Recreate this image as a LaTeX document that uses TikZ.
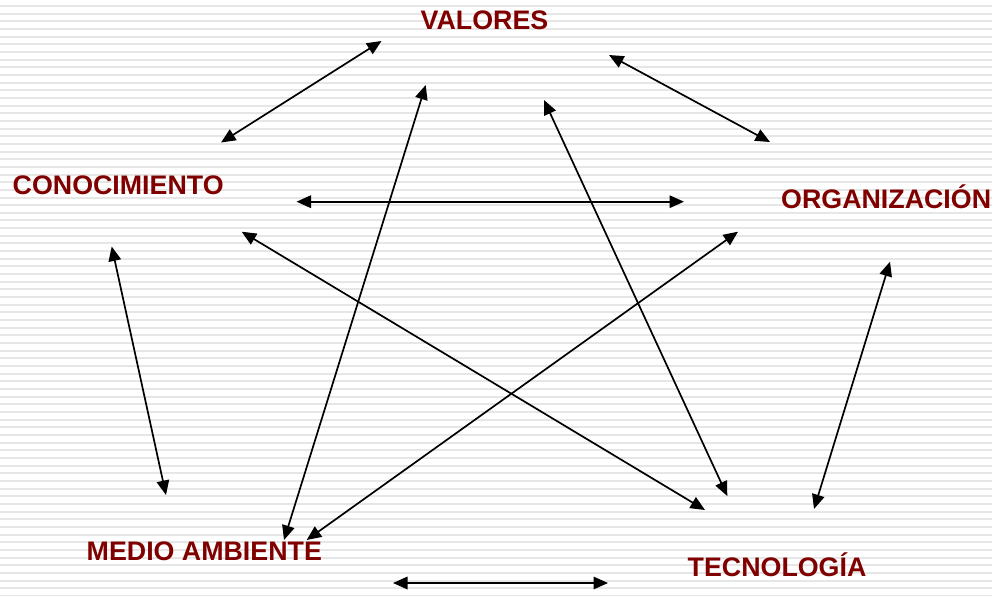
\documentclass[tikz,border=0pt]{standalone}
\usepackage{fontspec}
\setmainfont{Liberation Sans}
\usetikzlibrary{arrows.meta}
\definecolor{darkred}{HTML}{800000}
\definecolor{stripe}{HTML}{E6E6E6}

\begin{document}
\begin{tikzpicture}[x=1pt, y=-1pt,
	word/.style={text=darkred, font=\bfseries\fontsize{26.8}{30}\selectfont, inner sep=0pt, anchor=base west},
	link/.style={{Triangle[length=14.5pt, width=12.5pt]}-{Triangle[length=14.5pt, width=12.5pt]}, line width=1.7pt}]

	% background
	\fill [white] (0, 0) rectangle (992, 595);
	\useasboundingbox (0, 0) rectangle (992, 595);
	\foreach \k in {0,...,77}
		\draw [stripe, line width=2pt] (0, 6+7.66*\k) -- (992, 6+7.66*\k);

	\node [word] (val) at (420.5, 29.3) {VALORES};
	\node [word] (con) at (12.5, 194) {CONOCIMIENTO};
	\node [word] (org) at (781, 208.3) {ORGANIZACIÓN};
	\node [word] (med) at (86.5, 560.7) {MEDIO AMBIENTE};
	\node [word] (tec) at (687.5, 576) {TECNOLOGÍA};

	% arrow ends
	\coordinate (val-con) at (381.5, 41);
	\coordinate (con-val) at (221, 142.5);
	\coordinate (val-org) at (609, 55);
	\coordinate (org-val) at (770, 142);
	\coordinate (con-org) at (296.5, 201.7);
	\coordinate (org-con) at (684, 201.7);
	\coordinate (con-med) at (111.7, 246.5);
	\coordinate (med-con) at (166, 495);
	\coordinate (org-tec) at (890, 261.7);
	\coordinate (tec-org) at (814, 509);
	\coordinate (med-tec) at (393, 583);
	\coordinate (tec-med) at (608, 583);
	\coordinate (med-val) at (284, 540);
	\coordinate (val-med) at (425.7, 85);
	\coordinate (tec-val) at (727.3, 496);
	\coordinate (val-tec) at (544, 100);
	\coordinate (med-org) at (306.7, 540);
	\coordinate (org-med) at (738, 231.7);
	\coordinate (con-tec) at (241.7, 231.7);
	\coordinate (tec-con) at (705, 510);

	\draw [link] (val-con) -- (con-val);
	\draw [link] (val-org) -- (org-val);
	\draw [link] (con-org) -- (org-con);
	\draw [link] (con-med) -- (med-con);
	\draw [link] (org-tec) -- (tec-org);
	\draw [link] (med-tec) -- (tec-med);
	\draw [link] (med-val) -- (val-med);
	\draw [link] (tec-val) -- (val-tec);
	\draw [link] (med-org) -- (org-med);
	\draw [link] (con-tec) -- (tec-con);

\end{tikzpicture}
\end{document}
